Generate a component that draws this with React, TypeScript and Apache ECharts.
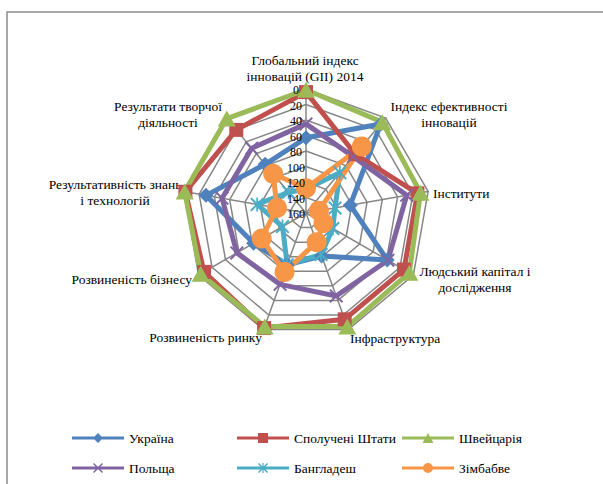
import React, { useEffect, useRef } from 'react';
import * as echarts from 'echarts';

// Indicators, listed clockwise from the top (as in the reference)
const indicatorNames = [
  'Глобальний індекс інновацій (GII) 2014',
  'Індекс ефективності інновацій',
  'Інститути',
  'Людський капітал і дослідження',
  'Інфраструктура',
  'Розвиненість ринку',
  'Розвиненість бізнесу',
  'Результативність знань і технологій',
  'Результати творчої діяльності',
];

// Rank axis: 0 at the rim, 160 at the centre
const rankMin = 0;
const rankMax = 160;
const rankStep = 20;

const seriesNames = ['Україна', 'Сполучені Штати', 'Швейцарія', 'Польща', 'Бангладеш', 'Зімбабве'];

// Ranks, same order as indicatorNames
const ukraine = [63, 10, 102, 39, 101, 89, 82, 29, 78];
const usa = [4, 61, 14, 14, 14, 2, 8, 2, 20];
const switzerland = [1, 7, 10, 6, 4, 4, 3, 1, 1];
const poland = [45, 65, 28, 38, 46, 62, 57, 50, 51];
const bangladesh = [129, 92, 122, 120, 103, 89, 125, 96, 125];
const zimbabwe = [128, 48, 143, 134, 120, 79, 94, 122, 94];

const seriesValues = [ukraine, usa, switzerland, poland, bangladesh, zimbabwe];
const seriesColors = ['#4F81BD', '#C0504D', '#9BBB59', '#8064A2', '#4BACC6', '#F79646'];

const FONT = "'Liberation Serif', 'Times New Roman', serif";

// ECharts lays radar indicators counter-clockwise; reorder to get clockwise
const displayOrder = [0, 8, 7, 6, 5, 4, 3, 2, 1];

const crossPath = 'path://M0,1L1,0L5,4L9,0L10,1L6,5L10,9L9,10L5,6L1,10L0,9L4,5Z';
const starPath = 'path://M0,1L1,0L5,4L9,0L10,1L6,5L10,9L9,10L5,6L1,10L0,9L4,5ZM4.4,0H5.6V10H4.4Z';

const seriesSymbols: any[] = [
  { symbol: 'diamond', size: 15 },
  { symbol: 'rect', size: 14 },
  { symbol: 'triangle', size: [18, 16] },
  { symbol: crossPath, size: 14 },
  { symbol: starPath, size: 14 },
  { symbol: 'circle', size: 20 },
];

const lineBar = 'M0,3.5H52V6.5H0Z';
const legendIcons = [
  'path://' + lineBar + 'M26,0L31,5L26,10L21,5Z',
  'path://' + lineBar + 'M21,0H31V10H21Z',
  'path://' + lineBar + 'M26,0L31.5,10H20.5Z',
  'path://' + lineBar + 'M21,1L22,0L26,4L30,0L31,1L27,5L31,9L30,10L26,6L22,10L21,9L25,5Z',
  'path://' + lineBar + 'M21,1L22,0L26,4L30,0L31,1L27,5L31,9L30,10L26,6L22,10L21,9L25,5ZM25.4,0H26.6V10H25.4Z',
  'path://' + lineBar + 'M21,5A5,5,0,1,1,31,5A5,5,0,1,1,21,5Z',
];

// Label layout (text of indicators, with line breaks as in the reference)
const nameLayout: { text: string; x: number; y: number; align: string }[] = [
  { text: 'Глобальний індекс\nінновацій (GII) 2014', x: 305, y: 68, align: 'center' },
  { text: 'Індекс ефективності\nінновацій', x: 449, y: 114.5, align: 'center' },
  { text: 'Інститути', x: 433, y: 193, align: 'left' },
  { text: 'Людський капітал і\nдослідження', x: 475, y: 279, align: 'center' },
  { text: 'Інфраструктура', x: 350, y: 338, align: 'left' },
  { text: 'Розвиненість ринку', x: 262, y: 337, align: 'right' },
  { text: 'Розвиненість бізнесу', x: 192, y: 279, align: 'right' },
  { text: 'Результативність знань\nі технологій', x: 115, y: 192.5, align: 'center' },
  { text: 'Результати творчої\nдіяльності', x: 168, y: 114.5, align: 'center' },
];

const legendColumns = [
  { left: 67, names: [0, 3] },
  { left: 232, names: [1, 4] },
  { left: 397, names: [2, 5] },
];

export default function App() {
  const ref = useRef<HTMLDivElement>(null);

  useEffect(() => {
    if (!ref.current) return;
    const chart = echarts.init(ref.current, undefined, { renderer: 'svg' });

    const gray = '#868686';

    const option: any = {
      animation: false,
      backgroundColor: '#ffffff',
      textStyle: { fontFamily: FONT },
      graphic: [
        {
          type: 'rect',
          silent: true,
          shape: { x: 7, y: 12, width: 700, height: 600 },
          style: { fill: 'none', stroke: '#8c8c8c', lineWidth: 1.5 },
        },
        ...nameLayout.map((n) => ({
          type: 'text',
          silent: true,
          x: n.x,
          y: n.y,
          style: {
            text: n.text,
            fontFamily: FONT,
            fontSize: 13.5,
            align: n.align,
            verticalAlign: 'middle',
            lineHeight: 16,
            fill: '#000',
          },
        })),
      ],
      radar: {
        center: [306, 213],
        radius: 124,
        startAngle: 90,
        shape: 'polygon',
        splitNumber: (rankMax - rankMin) / rankStep,
        indicator: displayOrder.map((i) => ({ name: indicatorNames[i], min: rankMin, max: rankMax })),
        axisName: { show: false },
        axisLine: { lineStyle: { color: gray, width: 1.5 } },
        splitLine: { lineStyle: { color: gray, width: 1.5 } },
        splitArea: { show: false },
        axisTick: { show: false },
        axisLabel: { show: false },
      },
      grid: { left: 306, top: 90, width: 1, height: 124 },
      xAxis: { type: 'value', min: 0, max: 1, show: false },
      yAxis: {
        type: 'value',
        inverse: true,
        min: rankMin,
        max: rankMax,
        interval: rankStep,
        axisLine: { show: false },
        axisTick: { show: false },
        splitLine: { show: false },
        z: 10,
        axisLabel: {
          align: 'center',
          margin: 10,
          fontFamily: FONT,
          fontSize: 12,
          color: '#000',
        },
      },
      legend: legendColumns.map((col) => ({
        orient: 'vertical',
        left: col.left,
        top: 426,
        itemWidth: 52,
        itemHeight: 10,
        itemGap: 16,
        selectedMode: false,
        itemStyle: { borderWidth: 0 },
        textStyle: { fontFamily: FONT, fontSize: 13.5, color: '#000' },
        data: col.names.map((i) => ({ name: seriesNames[i], icon: legendIcons[i] })),
      })),
      series: seriesNames.map((name, s) => ({
        type: 'radar',
        name,
        symbol: seriesSymbols[s].symbol,
        symbolSize: seriesSymbols[s].size,
        lineStyle: { color: seriesColors[s], width: 5 },
        itemStyle: { color: seriesColors[s], borderColor: seriesColors[s], borderWidth: 0 },
        data: [
          {
            name,
            value: displayOrder.map((i) => rankMax - seriesValues[s][i]),
          },
        ],
      })),
    };

    chart.setOption(option);
    return () => chart.dispose();
  }, []);

  return (
    <div
      ref={ref}
      style={{ position: 'fixed', left: 0, top: 0, width: 603, height: 484, background: '#fff' }}
    />
  );
}
